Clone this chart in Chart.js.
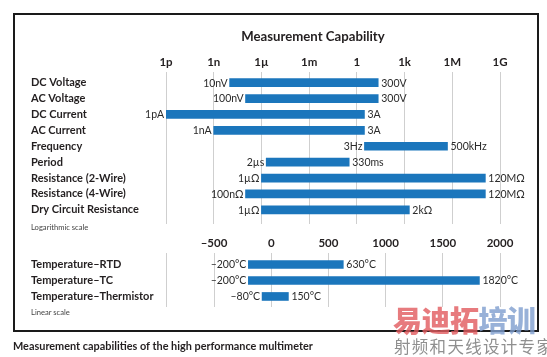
<!DOCTYPE html>
<html>
<head>
<meta charset="utf-8">
<script src="https://cdn.jsdelivr.net/npm/chart.js@4/dist/chart.umd.min.js"></script>
<style>
  html, body { margin: 0; padding: 0; background: #fff; }
  #wrap { position: relative; width: 547px; height: 357px; overflow: hidden; background: #fff; font-family: Lato, sans-serif; }
  #box { position: absolute; left: 13px; top: 13px; width: 522px; height: 315px; border: 2px solid #1a1a1a; }
  canvas { position: absolute; left: 0; }
  #c1 { top: 0; }
  #c2 { top: 228px; }
  .txt { position: absolute; white-space: nowrap; color: #231f20; }
  #title { left: 200px; width: 226px; top: 28px; text-align: center; font-weight: bold; font-size: 13.2px; }
  #logNote { left: 31px; top: 222px; font-size: 7.6px; color: #444; }
  #linNote { left: 31px; top: 307px; font-size: 7.6px; color: #444; }
  #caption { left: 13px; top: 339px; font-weight: bold; font-size: 10.9px; }
  #wm1 { left: 393px; top: 298px; font-family: "Noto Sans CJK SC"; font-weight: 900; font-size: 29px; letter-spacing: -0.5px; opacity: 0.8; }
  #wm2 { left: 394px; top: 334px; font-family: "Noto Sans CJK SC"; font-size: 16.5px; letter-spacing: 1.3px; color: #8f8f8f; }
</style>
</head>
<body>
<div id="wrap">
  <div id="box"></div>
  <canvas id="c1" width="547" height="232"></canvas>
  <canvas id="c2" width="547" height="100"></canvas>
  <div class="txt" id="title">Measurement Capability</div>
  <div class="txt" id="logNote">Logarithmic scale</div>
  <div class="txt" id="linNote">Linear scale</div>
  <div class="txt" id="caption">Measurement capabilities of the high performance multimeter</div>
  <div class="txt" id="wm1"><span style="color:#e25a5e">易迪拓</span><span style="color:#7f9ecf">培训</span></div>
  <div class="txt" id="wm2">射频和天线设计专家</div>
</div>
<script>
// ---------- data: logarithmic section ----------
const categories = ['DC Voltage', 'AC Voltage', 'DC Current', 'AC Current', 'Frequency', 'Period',
  'Resistance (2-Wire)', 'Resistance (4-Wire)', 'Dry Circuit Resistance'];
const rangeLow  = [1e-8, 1e-7, 1e-12, 1e-9, 3, 2e-6, 1e-6, 1e-7, 1e-6];
const rangeHigh = [22, 22, 3, 3, 5e5, 0.33, 1.2e8, 1.2e8, 2e3];
const lowLabels  = ['10nV', '100nV', '1pA', '1nA', '3Hz', '2µs', '1µΩ', '100nΩ', '1µΩ'];
const highLabels = ['300V', '300V', '3A', '3A', '500kHz', '330ms', '120MΩ', '120MΩ', '2kΩ'];
const logTicks = [1e-12, 1e-9, 1e-6, 1e-3, 1, 1e3, 1e6, 1e9];
const logTickLabels = ['1p', '1n', '1µ', '1m', '1', '1k', '1M', '1G'];

// ---------- data: linear section ----------
const tempCategories = ['Temperature–RTD', 'Temperature–TC', 'Temperature–Thermistor'];
const tempLow  = [-200, -200, -80];
const tempHigh = [630, 1820, 150];
const tempLowLabels  = ['–200°C', '–200°C', '–80°C'];
const tempHighLabels = ['630°C', '1820°C', '150°C'];
const tempTicks = [-500, 0, 500, 1000, 1500, 2000];
const tempTickLabels = ['–500', '0', '500', '1000', '1500', '2000'];

Chart.defaults.font.family = 'Lato, sans-serif';
Chart.defaults.color = '#231f20';
Chart.defaults.animation = false;

const BAR = '#1b76bc';
const GRID = '#cfcfcf';

function endLabels(lows, highs) {
  return {
    id: 'endLabels',
    afterDatasetsDraw(chart) {
      const ctx = chart.ctx;
      const meta = chart.getDatasetMeta(0);
      ctx.save();
      ctx.font = '10.5px Lato, sans-serif';
      ctx.fillStyle = '#2a2a2a';
      ctx.textBaseline = 'middle';
      meta.data.forEach((el, i) => {
        const p = el.getProps(['x', 'y', 'base'], true);
        const left = Math.min(p.x, p.base), right = Math.max(p.x, p.base);
        ctx.textAlign = 'right';
        ctx.fillText(lows[i], left - 2, p.y + 0.5);
        ctx.textAlign = 'left';
        ctx.fillText(highs[i], right + 3, p.y + 0.5);
      });
      ctx.restore();
    }
  };
}

function yAxis(names, min, max) {
  return {
    type: 'linear', position: 'left', reverse: true, min: min, max: max, offset: false,
    grid: { display: false, offset: false }, border: { display: false },
    afterBuildTicks: s => { s.ticks = names.map((_, i) => ({ value: i })); },
    afterFit: s => { s.width = 135; },
    ticks: {
      crossAlign: 'far', autoSkip: false, padding: 0,
      font: { size: 11, weight: 'bold' }, color: '#231f20',
      callback: v => names[v]
    }
  };
}

// ---------- chart 1: logarithmic ----------
new Chart(document.getElementById('c1'), {
  type: 'bar',
  data: {
    datasets: [{
      data: categories.map((c, i) => ({ x: [rangeLow[i], rangeHigh[i]], y: i })),
      backgroundColor: BAR, borderWidth: 0, borderSkipped: false,
      barThickness: 8
    }]
  },
  options: {
    indexAxis: 'y', responsive: false, maintainAspectRatio: false,
    layout: { padding: { left: 31, right: 47, top: 0, bottom: 8 } },
    plugins: { legend: { display: false }, tooltip: { enabled: false } },
    scales: {
      x: {
        type: 'logarithmic', position: 'top', min: 1e-12, max: 1e9,
        afterBuildTicks: s => { s.ticks = logTicks.map(v => ({ value: v })); },
        afterFit: s => { s.height = 72; },
        grid: { color: GRID, lineWidth: 1, drawTicks: false },
        border: { display: false },
        ticks: {
          autoSkip: false, maxRotation: 0, padding: 3,
          font: { size: 11.5, weight: 'bold' }, color: '#231f20',
          callback: (v) => logTickLabels[logTicks.findIndex(t => Math.abs(Math.log10(t) - Math.log10(v)) < 1e-6)]
        }
      },
      y: yAxis(categories, -0.67, 8.89)
    }
  },
  plugins: [endLabels(lowLabels, highLabels)]
});

// ---------- chart 2: linear ----------
const tempMin = -920;
new Chart(document.getElementById('c2'), {
  type: 'bar',
  data: {
    datasets: [{
      data: tempCategories.map((c, i) => ({ x: [tempLow[i], tempHigh[i]], y: i })),
      backgroundColor: BAR, borderWidth: 0, borderSkipped: false,
      barThickness: 8
    }]
  },
  options: {
    indexAxis: 'y', responsive: false, maintainAspectRatio: false,
    layout: { padding: { left: 31, right: 47, top: 0, bottom: 21 } },
    plugins: { legend: { display: false }, tooltip: { enabled: false } },
    scales: {
      x: {
        type: 'linear', position: 'top', min: tempMin, max: 2000,
        afterBuildTicks: s => { s.ticks = [{ value: tempMin }].concat(tempTicks.map(v => ({ value: v }))); },
        afterFit: s => { s.height = 25; },
        grid: { color: GRID, lineWidth: 1, drawTicks: false },
        border: { display: false },
        ticks: {
          autoSkip: false, maxRotation: 0, padding: 2.5,
          font: { size: 11.5, weight: 'bold' }, color: '#231f20',
          callback: v => { const k = tempTicks.indexOf(v); return k < 0 ? '' : tempTickLabels[k]; }
        }
      },
      y: yAxis(tempCategories, -0.72, 2.66)
    }
  },
  plugins: [endLabels(tempLowLabels, tempHighLabels)]
});
</script>
</body>
</html>
